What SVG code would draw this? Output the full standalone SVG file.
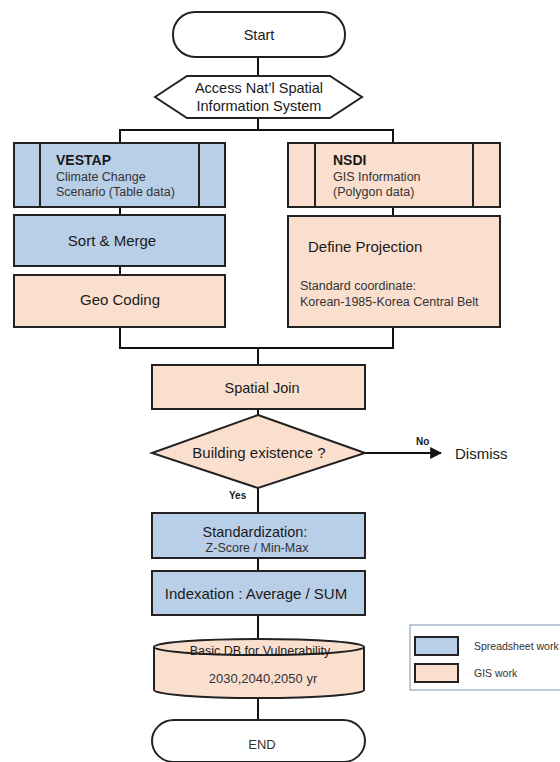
<svg xmlns="http://www.w3.org/2000/svg" width="560" height="762" viewBox="0 0 560 762">
<defs>
<style>
.box{stroke:#222;stroke-width:2}
.blue{fill:#b9cfe7}
.peach{fill:#fadfcf}
.term{fill:#fff;stroke:#222;stroke-width:2}
.ln{fill:none;stroke:#111;stroke-width:2}
text{font-family:"Liberation Sans",Arial,sans-serif;fill:#1a1a1a}
.c{text-anchor:middle}
.sub{fill:#333}
</style>
<marker id="arr" viewBox="0 0 10 10" refX="9" refY="5" markerWidth="6" markerHeight="6" orient="auto"><path d="M0,0 L10,5 L0,10 z" fill="#111"/></marker>
</defs>
<rect width="560" height="762" fill="#fff"/>
<g id="connectors">
<line class="ln" x1="258" y1="57" x2="258" y2="76"/>
<line class="ln" x1="258" y1="118" x2="258" y2="131"/>
<polyline class="ln" points="120,143 120,130 393,130 393,143"/>
<line class="ln" x1="120" y1="207" x2="120" y2="215"/>
<line class="ln" x1="120" y1="266" x2="120" y2="275"/>
<line class="ln" x1="393" y1="207" x2="393" y2="216"/>
<polyline class="ln" points="120,327 120,348 393,348 393,327"/>
<line class="ln" x1="258" y1="348" x2="258" y2="365"/>
<line class="ln" x1="258" y1="409" x2="258" y2="415"/>
<line class="ln" x1="365" y1="453" x2="441" y2="453" marker-end="url(#arr)"/>
<line class="ln" x1="258" y1="488" x2="258" y2="513"/>
<line class="ln" x1="258" y1="558" x2="258" y2="571"/>
<line class="ln" x1="258" y1="615" x2="258" y2="639"/>
<line class="ln" x1="258" y1="698" x2="258" y2="720"/>
<text x="416" y="445" font-size="10" font-weight="bold">No</text>
<text x="229" y="499" font-size="10" font-weight="bold">Yes</text>
</g>
<g id="start">
<rect class="term" x="173" y="12" width="172" height="45" rx="22"/>
<text class="c" x="259" y="40" font-size="14.5">Start</text>
</g>
<g id="access">
<polygon class="term" points="155,97 187,76 330,76 362,97 330,118 187,118"/>
<text class="c" x="259" y="93" font-size="14.5">Access Nat’l Spatial</text>
<text class="c" x="259" y="111" font-size="14.5">Information System</text>
</g>
<g id="vestap">
<rect class="box blue" x="14" y="143" width="211" height="64"/>
<line class="box" x1="40" y1="143" x2="40" y2="207"/>
<line class="box" x1="199" y1="143" x2="199" y2="207"/>
<text x="56" y="165" font-size="14" font-weight="bold">VESTAP</text>
<text class="sub" x="56" y="181" font-size="12.5">Climate Change</text>
<text class="sub" x="56" y="196" font-size="12.5">Scenario (Table data)</text>
</g>
<g id="sort">
<rect class="box blue" x="14" y="215" width="211" height="51"/>
<text class="c" x="112" y="246" font-size="15">Sort &amp; Merge</text>
</g>
<g id="geocoding">
<rect class="box peach" x="14" y="275" width="211" height="52"/>
<text class="c" x="120" y="305" font-size="15">Geo Coding</text>
</g>
<g id="nsdi">
<rect class="box peach" x="288" y="143" width="212" height="64"/>
<line class="box" x1="315" y1="143" x2="315" y2="207"/>
<line class="box" x1="473" y1="143" x2="473" y2="207"/>
<text x="333" y="165" font-size="14" font-weight="bold">NSDI</text>
<text class="sub" x="333" y="181" font-size="12.5">GIS Information</text>
<text class="sub" x="333" y="196" font-size="12.5">(Polygon data)</text>
</g>
<g id="projection">
<rect class="box peach" x="288" y="216" width="212" height="111"/>
<text x="308" y="252" font-size="15">Define Projection</text>
<text class="sub" x="300" y="290" font-size="12.5">Standard coordinate:</text>
<text class="sub" x="300" y="306" font-size="12.5">Korean-1985-Korea Central Belt</text>
</g>
<g id="spatialjoin">
<rect class="box peach" x="152" y="365" width="213" height="44"/>
<text class="c" x="262" y="393" font-size="14.5">Spatial Join</text>
</g>
<g id="building">
<polygon class="box peach" points="258,415 365,453 258,488 152,453"/>
<text class="c" x="259" y="458" font-size="15">Building existence ?</text>
</g>
<g id="dismiss">
<text x="455" y="459" font-size="15">Dismiss</text>
</g>
<g id="standardization">
<rect class="box blue" x="152" y="513" width="213" height="45"/>
<text class="c" x="255" y="537" font-size="14.5">Standardization:</text>
<text class="c sub" x="257" y="552" font-size="12.5">Z-Score / Min-Max</text>
</g>
<g id="indexation">
<rect class="box blue" x="152" y="571" width="213" height="44"/>
<text class="c" x="256" y="599" font-size="15">Indexation : Average / SUM</text>
</g>
<g id="basicdb">
<path class="box peach" d="M154,647 L154,690 A105,8 0 0 0 364,690 L364,647"/>
<ellipse class="box peach" cx="259" cy="647" rx="105" ry="8"/>
<text class="c" x="260" y="655" font-size="12.5">Basic DB for Vulnerability</text>
<text class="c sub" x="263" y="683" font-size="13">2030,2040,2050 yr</text>
</g>
<g id="end">
<rect class="term" x="152" y="720" width="213" height="42" rx="22"/>
<text class="c sub" x="262" y="749" font-size="13">END</text>
</g>
<g id="legend">
<rect x="410" y="625" width="160" height="65" fill="#fff" stroke="#7f93b0" stroke-width="1"/>
<rect class="box blue" x="415" y="637" width="43" height="18"/>
<rect class="box peach" x="415" y="664" width="43" height="18"/>
<text class="sub" x="474" y="650" font-size="10.5">Spreadsheet work</text>
<text class="sub" x="474" y="677" font-size="10.5">GIS work</text>
</g>
</svg>
